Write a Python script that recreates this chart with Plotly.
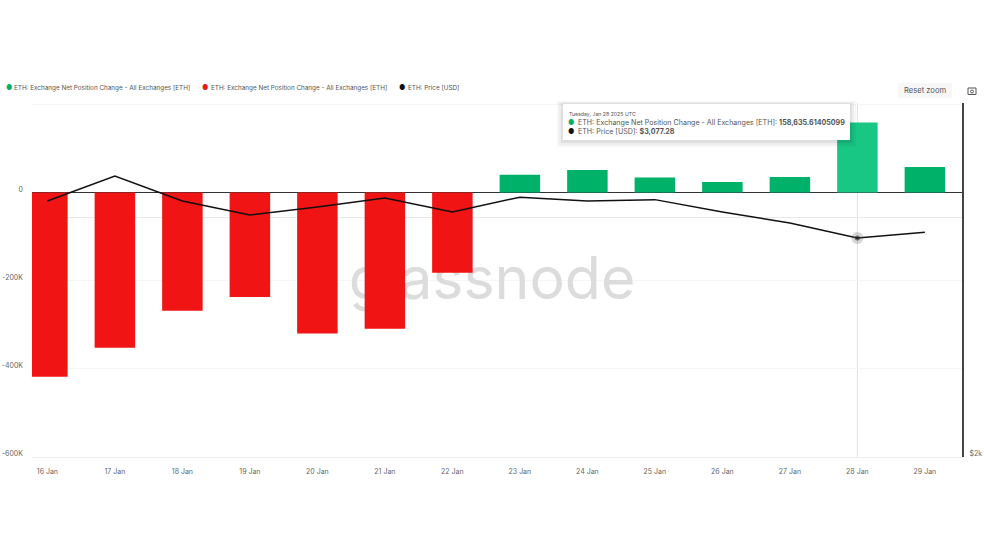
import plotly.graph_objects as go

days = ['16 Jan', '17 Jan', '18 Jan', '19 Jan', '20 Jan', '21 Jan', '22 Jan',
        '23 Jan', '24 Jan', '25 Jan', '26 Jan', '27 Jan', '28 Jan', '29 Jan']
net_change = [-418000, -352000, -268500, -237000, -320000, -309000, -182000,
              40000, 51000, 34000, 24000, 35000, 158635.61405099, 58000]
price = [3310, 3477, 3310, 3220, 3271, 3329, 3239,
         3335, 3310, 3319, 3239, 3170, 3077.28, 3113]

GREEN = '#00b16a'
GREEN_HOVER = '#19c785'
RED = '#f01414'
FONT = 'Inter'
W, H = 984, 554
L, R, T, B = 32, 962, 103, 457


def px(x):
    return (x - L) / (R - L)


def py(y):
    return (B - y) / (B - T)


bar_colors = []
for d, v in zip(days, net_change):
    if d == '28 Jan':
        bar_colors.append(GREEN_HOVER)
    elif v >= 0:
        bar_colors.append(GREEN)
    else:
        bar_colors.append(RED)

fig = go.Figure()
# watermark sits on hidden base axes so that the bars draw over it
fig.add_trace(go.Scatter(x=[px(492)], y=[py(284)], mode='text', text=['glassnode'],
                         textposition='middle center', hoverinfo='skip', showlegend=False,
                         textfont=dict(family=FONT, size=59, color='#dcdcdc')))
fig.add_trace(go.Bar(x=days, y=net_change, xaxis='x2', yaxis='y2', marker_color=bar_colors,
                     marker_line_width=0, width=0.6, showlegend=False))
fig.add_trace(go.Scatter(x=days, y=price, xaxis='x2', yaxis='y3', mode='lines+markers',
                         line=dict(color='#111111', width=1.5),
                         marker=dict(color='#111111',
                                     size=[5 if d == '28 Jan' else 0 for d in days],
                                     line=dict(color='rgba(90,90,90,0.35)',
                                               width=[7 if d == '28 Jan' else 0 for d in days])),
                         showlegend=False))

# crosshair on the hovered day, behind the bars
fig.add_shape(type='line', xref='x2', yref='paper', x0='28 Jan', x1='28 Jan', y0=0, y1=1,
              line=dict(color='#e4e4e4', width=1), layer='below')

# tooltip box with a soft shadow
for grow, alpha in [(6, 0.03), (4, 0.04), (2, 0.06)]:
    fig.add_shape(type='rect', xref='paper', yref='paper', x0=px(563 - grow), x1=px(850 + grow),
                  y0=py(141 + grow), y1=py(104 - grow / 2),
                  fillcolor=f'rgba(0,0,0,{alpha})', line_width=0)
fig.add_shape(type='rect', xref='paper', yref='paper', x0=px(563), x1=px(850), y0=py(140), y1=py(104),
              fillcolor='white', line_width=0)

# reset zoom button and camera icon
fig.add_shape(type='rect', xref='paper', yref='paper', x0=px(898), x1=px(952), y0=py(98), y1=py(83),
              fillcolor='#f7f7f7', line_width=0)
fig.add_shape(type='rect', xref='paper', yref='paper', x0=px(968), x1=px(976), y0=py(94.5), y1=py(88),
              line=dict(color='#555555', width=1))
fig.add_shape(type='circle', xref='paper', yref='paper', x0=px(970.5), x1=px(973.5), y0=py(93), y1=py(90),
              line=dict(color='#555555', width=1))


def note(x, y, text, size, color='#555555', anchor='left'):
    fig.add_annotation(xref='paper', yref='paper', x=px(x), y=py(y), text=text, showarrow=False,
                       xanchor=anchor, yanchor='middle', align='left', borderpad=0, borderwidth=0,
                       font=dict(family=FONT, size=size, color=color))


legend_name = 'ETH: Exchange Net Position Change - All Exchanges [ETH]'
note(6, 88, '●', 7, color=GREEN)
note(14, 88, legend_name, 6.35)
note(202, 88, '●', 7, color=RED)
note(211, 88, legend_name, 6.35)
note(399, 88, '●', 7, color='#111111')
note(408, 88, 'ETH: Price [USD]', 6.35)

note(925, 90.5, 'Reset zoom', 7.6, anchor='center')

note(569, 114.5, 'Tuesday, Jan 28 2025 UTC', 5.2)
note(568, 122.5, '●', 7, color=GREEN)
note(578, 122.5, 'ETH: Exchange Net Position Change - All Exchanges [ETH]: <b>158,635.61405099</b>', 7.1)
note(568, 131, '●', 7, color='#111111')
note(578, 131, 'ETH: Price [USD]: <b>$3,077.28</b>', 7.1)

fig.update_layout(
    width=W, height=H,
    margin=dict(l=L, r=W - R, t=T, b=H - B),
    paper_bgcolor='white', plot_bgcolor='white',
    font=dict(family=FONT, size=7, color='#666666'),
    bargap=0.4,
    showlegend=False,
    xaxis=dict(range=[0, 1], visible=False, automargin=False),
    yaxis=dict(range=[0, 1], visible=False, automargin=False),
    xaxis2=dict(overlaying='x', type='category', categoryorder='array', categoryarray=days,
                side='bottom', anchor='y2', automargin=False,
                range=[-0.228, 13.55], tickfont=dict(size=7), showgrid=False, ticks='',
                showline=True, linecolor='#ececec', linewidth=1, ticklabelstandoff=8),
    yaxis2=dict(overlaying='y', side='left', anchor='x2', automargin=False, range=[-600000, 203000],
                tickvals=[-600000, -400000, -200000, 0, 200000],
                ticktext=['-600K', '-400K', '-200K', '0', ''], tickfont=dict(size=7),
                gridcolor='#f6f6f6', gridwidth=1,
                zeroline=True, zerolinecolor='#333333', zerolinewidth=1,
                ticklabelshift=-3, ticklabelstandoff=8),
    yaxis3=dict(overlaying='y', side='right', anchor='x2', automargin=False, type='log',
                range=[3.30103, 3.30103 + 354 / 1170],
                tickvals=[2000, 3207], ticktext=['$2k', ''], tickfont=dict(size=7),
                showgrid=True, gridcolor='#e9e9e9', zeroline=False,
                showline=True, linecolor='#444444', linewidth=2, ticks='',
                ticklabelshift=-3, ticklabelstandoff=4),
)

fig.write_html("out.html", config={'displayModeBar': False},
               post_script="document.body.style.margin='0'")
